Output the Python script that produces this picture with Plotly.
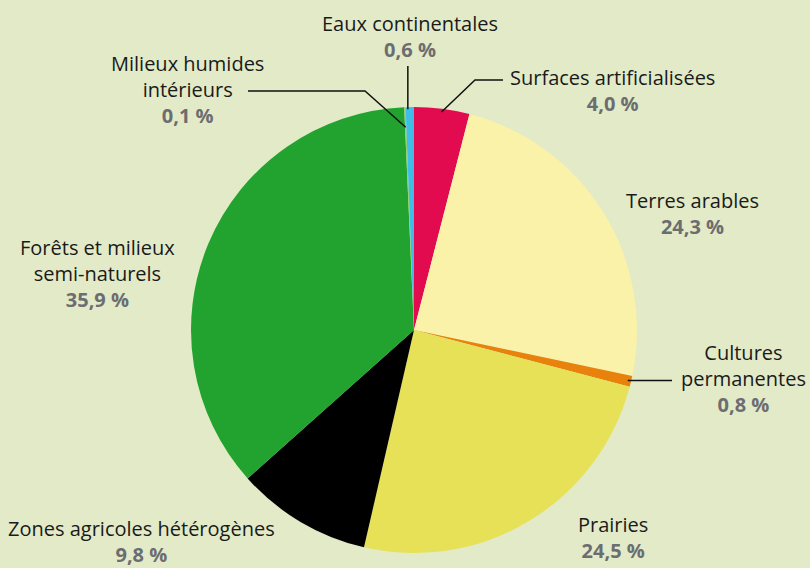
import math
import plotly.graph_objects as go

W, H = 810, 568

categories = ["Surfaces artificialisées", "Terres arables", "Cultures permanentes", "Prairies",
              "Zones agricoles hétérogènes", "Forêts et milieux semi-naturels",
              "Milieux humides intérieurs", "Eaux continentales"]
values = [4.0, 24.3, 0.8, 24.5, 9.8, 35.9, 0.1, 0.6]
value_labels = ["4,0 %", "24,3 %", "0,8 %", "24,5 %", "9,8 %", "35,9 %", "0,1 %", "0,6 %"]
label_lines = [["Surfaces artificialisées"], ["Terres arables"], ["Cultures", "permanentes"],
               ["Prairies"], ["Zones agricoles hétérogènes"], ["Forêts et milieux", "semi-naturels"],
               ["Milieux humides", "intérieurs"], ["Eaux continentales"]]
colors = ["#e30b4f", "#f9f2a8", "#e8820c", "#e6e156", "#000000", "#22a22f", "#8fcf6a", "#3fbde6"]

BG = "#e2eac7"
CX, CY, R = 414, 330, 223

fig = go.Figure(go.Pie(
    labels=categories, values=values, sort=False, direction="clockwise", rotation=0,
    marker=dict(colors=colors, line=dict(width=0)), textinfo="none", showlegend=False,
    domain=dict(x=[(CX - R) / W, (CX + R) / W], y=[(H - CY - R) / H, (H - CY + R) / H]),
))

total = sum(values)

def slice_point(i, frac_r):
    cum = sum(values[:i]) + values[i] / 2
    a = 2 * math.pi * cum / total
    return CX + R * frac_r * math.sin(a), CY - R * frac_r * math.cos(a)

def px(x, y):
    return x / W, 1 - y / H

# label block centres (pixels) -- layout positions
label_pos = {0: (612, 90), 1: (692, 213), 2: (743, 378), 3: (613, 537),
             4: (141, 541), 5: (97, 273), 6: (187, 89), 7: (410, 36)}

for i, (cx, cy) in label_pos.items():
    txt = "<br>".join(label_lines[i]) + "<br><b><span style='color:#6c6d70'>" + value_labels[i] + "</span></b>"
    x, y = px(cx, cy)
    fig.add_annotation(x=x, y=y, xref="paper", yref="paper", text=txt, showarrow=False,
                       xanchor="center", yanchor="middle", align="center",
                       font=dict(family="Open Sans", size=20, color="#1a1a1a"))

def add_path(points):
    path = "M " + " L ".join(f"{px(a, b)[0]:.5f},{px(a, b)[1]:.5f}" for a, b in points)
    fig.add_shape(type="path", path=path, xref="paper", yref="paper",
                  line=dict(color="#111111", width=1.5))

# leader lines
ex, ey = slice_point(7, 0.99)
add_path([(ex - 2, 66), (ex - 2, ey)])
sx, sy = slice_point(0, 0.985)
add_path([(sx, sy), (475, 80), (503, 80)])
mx, my = slice_point(6, 0.91)
add_path([(248, 91), (365, 91), (mx, my)])
cxp, cyp = slice_point(2, 0.985)
add_path([(cxp, cyp), (672, cyp)])

fig.update_layout(width=W, height=H, margin=dict(l=0, r=0, t=0, b=0),
                  paper_bgcolor=BG, plot_bgcolor=BG)
fig.write_html("out.html", config={"displayModeBar": False},
               post_script="document.body.style.margin='0';document.body.style.overflow='hidden';")
